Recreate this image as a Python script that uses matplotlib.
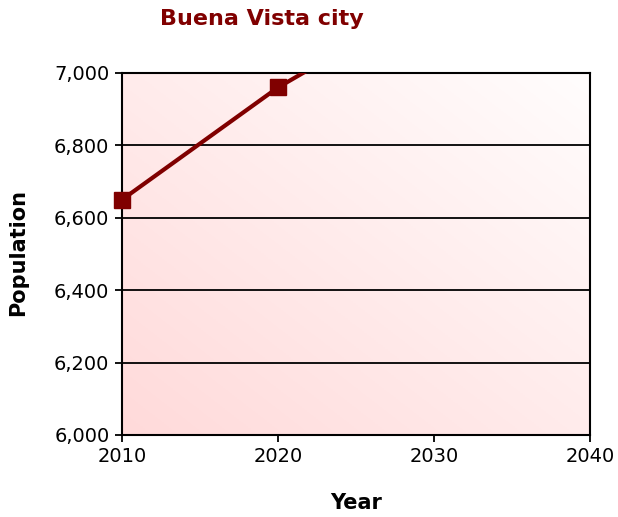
import numpy as np
import matplotlib.pyplot as plt
from matplotlib.colors import LinearSegmentedColormap

# data
years = [2010, 2020, 2030]
population = [6650, 6960, 7210]
x_ticks = [2010, 2020, 2030, 2040]
y_ticks = [6000, 6200, 6400, 6600, 6800, 7000]

dark_red = "#800000"
y_min, y_max = 6000, 7000

plt.rcParams["font.family"] = "DejaVu Sans"

fig = plt.figure(figsize=(6.18, 5.17), dpi=100)
ax = fig.add_axes([122 / 618, 1 - 435 / 517, 468 / 618, 362 / 517])

# diagonal gradient background: pink bottom-left to white top-right
gx, gy = np.meshgrid(np.linspace(0, 1, 200), np.linspace(0, 1, 200))
grad = (gx + gy) / 2
cmap = LinearSegmentedColormap.from_list("bg", ["#ffdada", "#fffdfd"])
ax.imshow(grad, cmap=cmap, origin="lower", extent=[0, 1, 0, 1],
          transform=ax.transAxes, aspect="auto", zorder=0)

# line is clipped at the top, markers inside the range are drawn whole
ax.plot(years, population, color=dark_red, lw=3, zorder=3)
shown = [(x, y) for x, y in zip(years, population) if y_min <= y <= y_max]
ax.plot([p[0] for p in shown], [p[1] for p in shown], ls="none", marker="s",
        markersize=11.5, color=dark_red, zorder=4, clip_on=False)

ax.set_xlim(2010, 2040)
ax.set_ylim(y_min, y_max)
ax.set_xticks(x_ticks)
ax.set_yticks(y_ticks)
ax.set_yticklabels([f"{v:,}" for v in y_ticks])
ax.yaxis.grid(True, color="black", lw=1.3, zorder=1)
ax.set_axisbelow(True)
for s in ax.spines.values():
    s.set_color("black")
    s.set_linewidth(1.5)
ax.tick_params(axis="both", labelsize=14, length=5, width=1.3,
               direction="out", pad=4, colors="black")

fig.text(262 / 618, 1 - 19 / 517, "Buena Vista city", ha="center", va="center",
         fontsize=16, fontweight="bold", color=dark_red)
fig.text(356 / 618, 1 - 503 / 517, "Year", ha="center", va="center",
         fontsize=15, fontweight="bold")
fig.text(18 / 618, 1 - 253 / 517, "Population", ha="center", va="center",
         rotation=90, fontsize=15, fontweight="bold")

fig.savefig("out.png", dpi=100)
